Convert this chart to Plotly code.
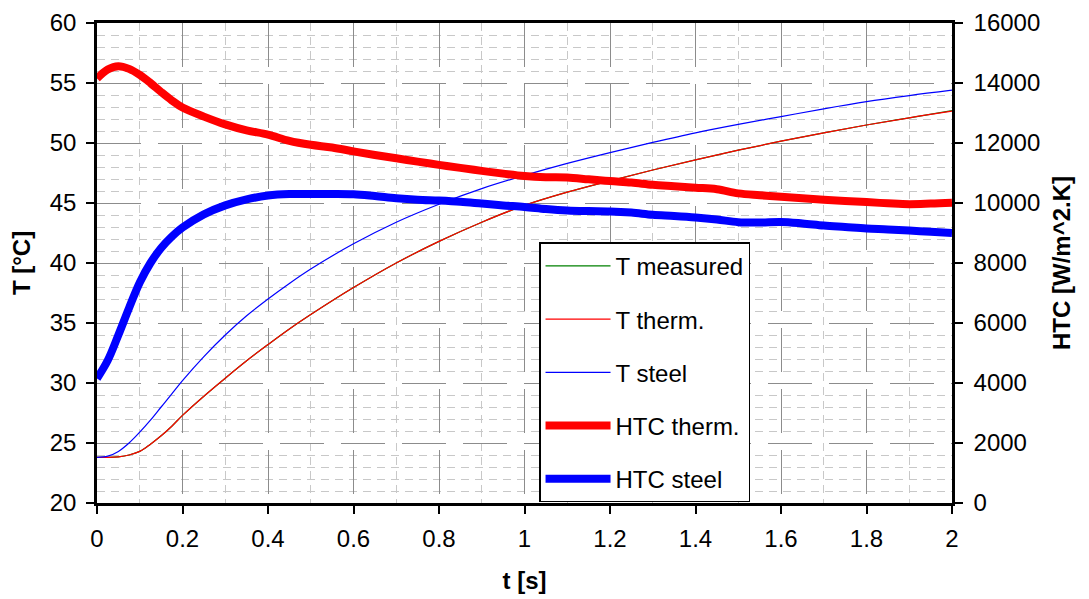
import plotly.graph_objects as go

# ---- data ----
t_T = [0, 0.025, 0.05, 0.075, 0.1, 0.125, 0.15, 0.175, 0.2, 0.25, 0.3, 0.35, 0.4, 0.45, 0.5, 0.6, 0.7, 0.8,
       0.9, 1.0, 1.1, 1.2, 1.3, 1.4, 1.5, 1.6, 1.7, 1.8, 1.9, 2.0]
T_steel = [23.8, 23.9, 24.3, 25.0, 25.9, 26.9, 28.0, 29.1, 30.2, 32.2, 34.0, 35.6, 37.0, 38.3, 39.5, 41.6, 43.4, 44.9,
           46.2, 47.3, 48.3, 49.2, 50.05, 50.85, 51.55, 52.2, 52.85, 53.45, 53.95, 54.4]
T_therm = [23.8, 23.8, 23.85, 24.0, 24.3, 24.9, 25.6, 26.4, 27.3, 28.9, 30.4, 31.85, 33.2, 34.5, 35.7, 37.95, 40.0, 41.8,
           43.4, 44.8, 45.9, 46.85, 47.75, 48.6, 49.4, 50.15, 50.85, 51.5, 52.1, 52.65]
T_measured = [23.8, 23.8, 23.85, 24.0, 24.3, 24.9, 25.6, 26.4, 27.3, 28.9, 30.4, 31.85, 33.2, 34.5, 35.7, 37.95, 40.0, 41.8,
              43.4, 44.8, 45.9, 46.85, 47.75, 48.6, 49.4, 50.15, 50.85, 51.5, 52.1, 52.7]

t_H = [0, 0.025, 0.05, 0.075, 0.1, 0.125, 0.15, 0.175, 0.2, 0.25, 0.3, 0.35, 0.4, 0.45, 0.5, 0.55,
       0.6, 0.65, 0.7, 0.75, 0.8, 0.85, 0.9, 0.95, 1.0, 1.05, 1.1, 1.15, 1.2, 1.25, 1.3, 1.35,
       1.4, 1.45, 1.5, 1.55, 1.6, 1.65, 1.7, 1.75, 1.8, 1.85, 1.9, 1.95, 2.0]
HTC_therm = [14150, 14450, 14560, 14470, 14270, 14000, 13700, 13420, 13180, 12880, 12620, 12420, 12280, 12070,
             11940, 11850, 11720, 11600, 11490, 11380, 11270, 11170, 11070, 10980, 10900, 10860, 10850, 10790,
             10730, 10680, 10610, 10560, 10510, 10460, 10320, 10260, 10210, 10160, 10110, 10070, 10030, 9990,
             9960, 9980, 10010]
HTC_steel = [4150, 4750, 5600, 6500, 7350, 8000, 8500, 8880, 9180, 9620, 9920, 10120, 10250, 10300, 10300,
             10300, 10290, 10230, 10160, 10110, 10080, 10040, 9980, 9920, 9870, 9800, 9750, 9730, 9720, 9680,
             9610, 9570, 9520, 9450, 9360, 9350, 9370, 9320, 9250, 9200, 9150, 9120, 9080, 9040, 9000]

FONT = "Liberation Sans, Arial, sans-serif"
TICKFONT = dict(family=FONT, size=24, color="black")
TITLEFONT = dict(family=FONT, size=24, color="black")

fig = go.Figure()
fig.add_trace(go.Scatter(x=t_T, y=T_measured, name="T measured", mode="lines",
                         line=dict(color="#008000", width=1.2, shape="spline"), legendgroup="a"))
fig.add_trace(go.Scatter(x=t_T, y=T_therm, name="T therm.", mode="lines",
                         line=dict(color="#ff0000", width=1.2, shape="spline"), legendgroup="b"))
fig.add_trace(go.Scatter(x=t_T, y=T_steel, name="T steel", mode="lines",
                         line=dict(color="#0000ff", width=1.2, shape="spline"), legendgroup="c"))
fig.add_trace(go.Scatter(x=t_H, y=HTC_therm, name="HTC therm.", mode="lines", yaxis="y2",
                         line=dict(color="#ff0000", width=8, shape="spline"), legendgroup="d"))
fig.add_trace(go.Scatter(x=t_H, y=HTC_steel, name="HTC steel", mode="lines", yaxis="y2",
                         line=dict(color="#0000ff", width=8, shape="spline"), legendgroup="e"))

major_dash = "44px,17px"
minor_dash = "8px,6px"

fig.update_layout(
    width=1089, height=599,
    margin=dict(l=89, r=144.5, t=15, b=104),
    paper_bgcolor="white", plot_bgcolor="white",
    font=dict(family=FONT, size=24, color="black"),
    showlegend=True,
    legend=dict(x=0.517, y=0.543, xanchor="left", yanchor="top",
                bgcolor="white", bordercolor="black", borderwidth=1.5,
                font=dict(family=FONT, size=24, color="black"),
                tracegroupgap=19, itemwidth=65,
                entrywidth=225, entrywidthmode="pixels",
                traceorder="grouped"),
    xaxis=dict(range=[0, 2], tick0=0, dtick=0.2, tickformat="~g", automargin=False,
               showline=True, linecolor="black", linewidth=2.5, mirror=True,
               ticks="outside", ticklen=8, tickcolor="black", tickwidth=1.5,
               tickfont=TICKFONT,
               showgrid=True, gridcolor="#8c8c8c", gridwidth=1, griddash=major_dash,
               minor=dict(dtick=0.1, showgrid=True, gridcolor="#c8c8c8", gridwidth=1, griddash=minor_dash),
               zeroline=False,
               title=dict(text="<b>t [s]</b>", font=TITLEFONT, standoff=22),
               ticklabelstandoff=4),
    yaxis=dict(range=[20, 60], tick0=20, dtick=5, automargin=False,
               showline=True, linecolor="black", linewidth=2.5, mirror=True,
               ticks="outside", ticklen=8, tickcolor="black", tickwidth=1.5,
               tickfont=TICKFONT,
               showgrid=True, gridcolor="#8c8c8c", gridwidth=1, griddash=major_dash,
               minor=dict(dtick=1, showgrid=True, gridcolor="#c8c8c8", gridwidth=1, griddash=minor_dash),
               zeroline=False,
               title=dict(text="<b>T [°C]</b>", font=TITLEFONT, standoff=14),
               ticklabelstandoff=5),
    yaxis2=dict(range=[0, 16000], tick0=0, dtick=2000, overlaying="y", side="right",
                tickformat="d", automargin=False,
                showline=True, linecolor="black", linewidth=2.5,
                ticks="outside", ticklen=8, tickcolor="black", tickwidth=1.5,
                tickfont=TICKFONT,
                showgrid=False, zeroline=False,
                title=dict(text="<b>HTC [W/m^2.K]</b>", font=TITLEFONT, standoff=14),
                ticklabelstandoff=6),
)

fig.write_html("out.html")
